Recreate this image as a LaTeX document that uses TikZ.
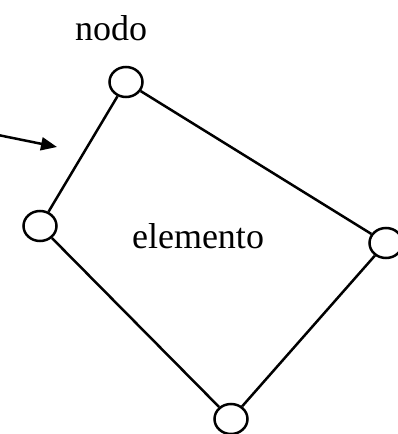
\documentclass[tikz,border=0pt]{standalone}
\usepackage{fontspec}
\setmainfont{Liberation Serif}
\usetikzlibrary{arrows.meta,shapes.geometric}
\begin{document}
\begin{tikzpicture}[x=1pt,y=-1pt,
  nodo/.style={draw,line width=2.5pt,ellipse,minimum width=33pt,minimum height=30pt,inner sep=0pt},
  lado/.style={line width=2.5pt},
  lbl/.style={font=\fontsize{36}{40}\selectfont,inner sep=0pt}]
\useasboundingbox (0,0) rectangle (397,434);
\node[nodo] (n1) at (126,82) {};
\node[nodo] (n2) at (40,226) {};
\node[nodo] (n3) at (386,243) {};
\node[nodo] (n4) at (231,419) {};
\draw[lado] (n1) -- (n2);
\draw[lado] (n1) -- (n3);
\draw[lado] (n2) -- (n4);
\draw[lado] (n3) -- (n4);
\node[lbl] (t1) at (111,28) {nodo};
\node[lbl] (t2) at (198,236) {elemento};
\coordinate (a0) at (-2,135);
\coordinate (a1) at (57,147);
\draw[lado,-{Triangle[length=16pt,width=13pt]}] (a0) -- (a1);
\end{tikzpicture}
\end{document}
